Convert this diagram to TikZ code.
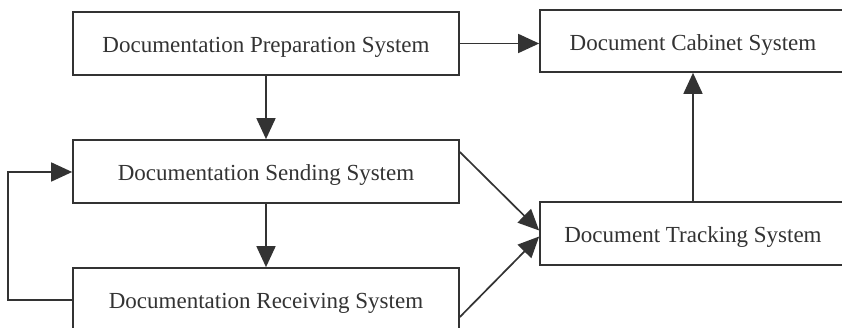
\documentclass[tikz,border=0pt]{standalone}
\usepackage{fontspec}
\setmainfont{Liberation Serif}
\usetikzlibrary{arrows.meta}
\definecolor{ink}{HTML}{333333}
\newcommand{\boxtext}[1]{\raisebox{-3pt}{#1}}
\tikzset{
  sysbox/.style={draw=ink, line width=1.7pt, fill=white, text=ink, inner sep=0pt,
    text depth=0pt, font=\fontsize{23}{28}\selectfont},
  flow/.style={draw=ink, line width=1.7pt, -{Triangle[length=21pt,width=19pt]}}
}
\begin{document}
\begin{tikzpicture}[x=1pt,y=1pt]
\useasboundingbox (0,0) rectangle (842,328);
\clip (0,0) rectangle (842,328);
\fill[white] (0,0) rectangle (842,328);
% nodes (y = 328 - pixel y)
\node[sysbox, minimum width=386pt, minimum height=63pt] (prep) at (266,284.5) {\boxtext{Documentation Preparation System}};
\node[sysbox, minimum width=306pt, minimum height=62pt] (cab) at (693,287) {\boxtext{Document Cabinet System}};
\node[sysbox, minimum width=386pt, minimum height=63pt] (send) at (266,156.5) {\boxtext{Documentation Sending System}};
\node[sysbox, minimum width=306pt, minimum height=63pt] (track) at (693,94.5) {\boxtext{Document Tracking System}};
\node[sysbox, minimum width=386pt, minimum height=63pt] (recv) at (266,28.5) {\boxtext{Documentation Receiving System}};
% connectors
\draw[flow] (prep.east) -- (prep.east -| cab.west);
\draw[flow] (prep.south) -- (send.north);
\draw[flow] (send.south) -- (recv.north);
\draw[flow] (track.north) -- (cab.south);
\draw[flow] (send.east |- 0,176) -- ([yshift=3pt]track.west);
\draw[flow] (recv.east |- 0,11) -- ([yshift=-3pt]track.west);
\coordinate (lb) at (8,28);
\coordinate (lt) at (8,156);
\draw[flow] (recv.west |- lb) -- (lb) -- (lt) -- (send.west |- lt);
\end{tikzpicture}
\end{document}
